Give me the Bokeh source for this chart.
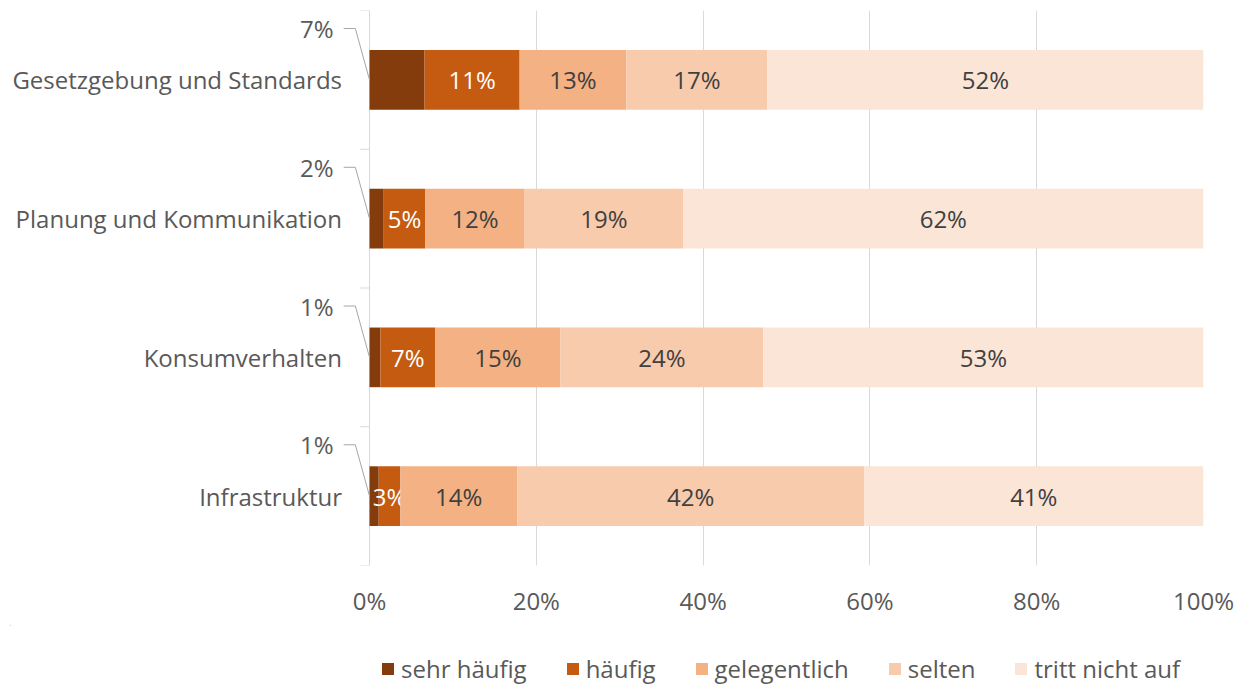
from bokeh.plotting import figure
from bokeh.layouts import column
from bokeh.models import Range1d, FixedTicker, PrintfTickFormatter, Legend, LegendItem
from bokeh.core.properties import value
from bokeh.embed import file_html
from bokeh.resources import INLINE

categories = ["Gesetzgebung und Standards", "Planung und Kommunikation", "Konsumverhalten", "Infrastruktur"]
series = ["sehr häufig", "häufig", "gelegentlich", "selten", "tritt nicht auf"]
sehr_haeufig = [6.6, 1.7, 1.3, 1.1]
haeufig = [11.4, 5.0, 6.6, 2.6]
gelegentlich = [12.8, 11.9, 15.0, 14.0]
selten = [16.9, 19.0, 24.3, 41.6]
tritt_nicht_auf = [52.3, 62.4, 52.8, 40.7]
x_ticks = [0, 20, 40, 60, 80, 100]

colors = ["#843C0C", "#C55A11", "#F4B183", "#F8CBAD", "#FBE5D6"]
label_colors = ["#595959", "#FFFFFF", "#404040", "#404040", "#404040"]
FONT = "Open Sans"
FS = "24px"
GRID = "#D9D9D9"

values = [sehr_haeufig, haeufig, gelegentlich, selten, tritt_nicht_auf]
n = len(categories)
ys = [n - i - 0.5 for i in range(n)]

p = figure(output_backend="svg", toolbar_location=None,
           width=1235, height=625,
           x_range=Range1d(-43.05, 100), y_range=Range1d(0, n),
           y_axis_location=None, min_border_left=10, min_border_top=10,
           min_border_right=32, min_border_bottom=60)
p.outline_line_color = None
p.background_fill_color = "white"

p.xgrid.ticker = FixedTicker(ticks=x_ticks)
p.xgrid.grid_line_color = GRID
p.xgrid.grid_line_width = 1
p.ygrid.visible = False

p.xaxis.ticker = FixedTicker(ticks=x_ticks)
p.xaxis.formatter = PrintfTickFormatter(format="%d%%")
p.xaxis.axis_line_color = None
p.xaxis.major_tick_line_color = None
p.xaxis.minor_tick_line_color = None
p.xaxis.major_label_standoff = 12
p.xaxis.major_label_text_font = FONT
p.xaxis.major_label_text_font_size = FS
p.xaxis.major_label_text_color = "#595959"

bounds = list(range(n + 1))
p.segment(x0=[-1.1] * len(bounds), x1=[0] * len(bounds), y0=bounds, y1=bounds,
          line_color=GRID, line_width=1)

p.text(x=[-3.3] * n, y=ys, text=categories, text_align="right", text_baseline="middle",
       text_font=value(FONT), text_font_size=FS, text_color="#595959")

# legend strip below the chart (same bars, kept outside its visible ranges)
pl = figure(output_backend="svg", toolbar_location=None, width=1235, height=60,
            x_axis_location=None, y_axis_location=None,
            x_range=Range1d(1000, 1100), y_range=Range1d(-20, -10),
            min_border_left=0, min_border_right=0, min_border_top=0, min_border_bottom=0)
pl.outline_line_color = None
pl.grid.visible = False
items = []

left = [0.0] * n
for k, (name, vals) in enumerate(zip(series, values)):
    right = [l + v for l, v in zip(left, vals)]
    p.hbar(y=ys, height=0.43, left=left, right=right, fill_color=colors[k],
           line_color=None)
    rl = pl.hbar(y=ys, height=0.43, left=left, right=right, fill_color=colors[k],
                 line_color=None)
    items.append(LegendItem(label=name, renderers=[rl]))
    labels = [f"{int(v + 0.5)}%" for v in vals]
    if k == 0:
        off = 0.37
        p.text(x=[-4.3] * n, y=[y + off for y in ys], text=labels, text_align="right",
               text_baseline="middle", text_font=value(FONT), text_font_size=FS,
               text_color=label_colors[k])
        xs_l = [[-3.1, -1.7, 0] for _ in ys]
        ys_l = [[y + off, y + off, y] for y in ys]
        p.multi_line(xs=xs_l, ys=ys_l, line_color="#A6A6A6", line_width=1)
    else:
        mids = [(l + r_) / 2 for l, r_ in zip(left, right)]
        p.text(x=mids, y=ys, text=labels, text_align="center", text_baseline="middle",
               text_font=value(FONT), text_font_size=FS, text_color=label_colors[k])
    left = right

legend = Legend(items=items, orientation="horizontal", location=(370, 0),
                glyph_width=15, glyph_height=15, label_standoff=6, spacing=38,
                label_text_font=FONT, label_text_font_size=FS, label_text_color="#595959",
                border_line_color=None, background_fill_alpha=0, padding=0, margin=0)
pl.add_layout(legend)

layout = column(p, pl, spacing=0)
open("out.html", "w").write(file_html(layout, INLINE))
